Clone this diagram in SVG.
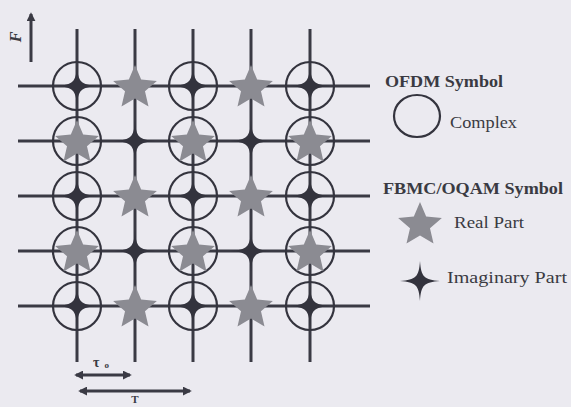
<svg xmlns="http://www.w3.org/2000/svg" width="571" height="407" viewBox="0 0 571 407">
<style>
.ln{stroke:#3a3a44;stroke-width:3;fill:none}
.circ{stroke:#34343e;stroke-width:2.2;fill:none}
.star{fill:#8b8b92}
.cross{fill:#33333d}
.lbl{font-family:"Liberation Serif","DejaVu Serif",serif;fill:#3a3a42}
.b{font-weight:bold}
.arw{stroke:#3a3a44;stroke-width:3;fill:none}
</style>
<defs>
<polygon id="star" points="0,-23 6.17,-8.49 21.87,-7.11 9.98,3.24 13.52,18.61 0,10.5 -13.52,18.61 -9.98,3.24 -21.87,-7.11 -6.17,-8.49"/>
<path id="cross" d="M0,-20 C1.2,-4 4,-1.2 20,0 C4,1.2 1.2,4 0,20 C-1.2,4 -4,1.2 -20,0 C-4,-1.2 -1.2,-4 0,-20Z"/>
<marker id="ah" viewBox="0 0 10 10" refX="8" refY="5" markerWidth="3" markerHeight="3" orient="auto-start-reverse">
<path d="M0,0 L10,5 L0,10Z" fill="#3a3a44"/>
</marker>
</defs>
<rect width="571" height="407" fill="#ebeaf0"/>

<g id="grid-lines">
<line class="ln" x1="18" y1="86" x2="370" y2="86"/>
<line class="ln" x1="18" y1="141" x2="370" y2="141"/>
<line class="ln" x1="18" y1="196" x2="370" y2="196"/>
<line class="ln" x1="18" y1="251" x2="370" y2="251"/>
<line class="ln" x1="18" y1="306" x2="370" y2="306"/>
<line class="ln" x1="77" y1="29" x2="77" y2="362"/>
<line class="ln" x1="135" y1="29" x2="135" y2="362"/>
<line class="ln" x1="193" y1="29" x2="193" y2="362"/>
<line class="ln" x1="251" y1="29" x2="251" y2="362"/>
<line class="ln" x1="310" y1="29" x2="310" y2="362"/>
</g>

<g id="row1">
<g id="r1c1"><circle class="circ" cx="77" cy="86" r="24"/><use href="#cross" class="cross" x="77" y="86"/></g>
<g id="r1c2"><use href="#star" class="star" x="135" y="88"/></g>
<g id="r1c3"><circle class="circ" cx="193" cy="86" r="24"/><use href="#cross" class="cross" x="193" y="86"/></g>
<g id="r1c4"><use href="#star" class="star" x="251" y="88"/></g>
<g id="r1c5"><circle class="circ" cx="310" cy="86" r="24"/><use href="#cross" class="cross" x="310" y="86"/></g>
</g>
<g id="row2">
<g id="r2c1"><circle class="circ" cx="77" cy="141" r="24"/><use href="#star" class="star" x="77" y="143"/></g>
<g id="r2c2"><use href="#cross" class="cross" x="135" y="141"/></g>
<g id="r2c3"><circle class="circ" cx="193" cy="141" r="24"/><use href="#star" class="star" x="193" y="143"/></g>
<g id="r2c4"><use href="#cross" class="cross" x="251" y="141"/></g>
<g id="r2c5"><circle class="circ" cx="310" cy="141" r="24"/><use href="#star" class="star" x="310" y="143"/></g>
</g>
<g id="row3">
<g id="r3c1"><circle class="circ" cx="77" cy="196" r="24"/><use href="#cross" class="cross" x="77" y="196"/></g>
<g id="r3c2"><use href="#star" class="star" x="135" y="198"/></g>
<g id="r3c3"><circle class="circ" cx="193" cy="196" r="24"/><use href="#cross" class="cross" x="193" y="196"/></g>
<g id="r3c4"><use href="#star" class="star" x="251" y="198"/></g>
<g id="r3c5"><circle class="circ" cx="310" cy="196" r="24"/><use href="#cross" class="cross" x="310" y="196"/></g>
</g>
<g id="row4">
<g id="r4c1"><circle class="circ" cx="77" cy="251" r="24"/><use href="#star" class="star" x="77" y="253"/></g>
<g id="r4c2"><use href="#cross" class="cross" x="135" y="251"/></g>
<g id="r4c3"><circle class="circ" cx="193" cy="251" r="24"/><use href="#star" class="star" x="193" y="253"/></g>
<g id="r4c4"><use href="#cross" class="cross" x="251" y="251"/></g>
<g id="r4c5"><circle class="circ" cx="310" cy="251" r="24"/><use href="#star" class="star" x="310" y="253"/></g>
</g>
<g id="row5">
<g id="r5c1"><circle class="circ" cx="77" cy="306" r="24"/><use href="#cross" class="cross" x="77" y="306"/></g>
<g id="r5c2"><use href="#star" class="star" x="135" y="308"/></g>
<g id="r5c3"><circle class="circ" cx="193" cy="306" r="24"/><use href="#cross" class="cross" x="193" y="306"/></g>
<g id="r5c4"><use href="#star" class="star" x="251" y="308"/></g>
<g id="r5c5"><circle class="circ" cx="310" cy="306" r="24"/><use href="#cross" class="cross" x="310" y="306"/></g>
</g>

<g id="connectors">
<line class="arw" x1="31" y1="62" x2="31" y2="14" marker-end="url(#ah)"/>
<line class="arw" x1="76" y1="375" x2="130" y2="375" marker-start="url(#ah)" marker-end="url(#ah)"/>
<line class="arw" x1="80" y1="391" x2="190" y2="391" marker-start="url(#ah)" marker-end="url(#ah)"/>
</g>

<g id="axis-labels">
<text class="lbl b" font-style="italic" font-size="16" transform="translate(21,37) rotate(-90)" text-anchor="middle">F</text>
<text class="lbl b" font-size="14" x="93" y="367">τ<tspan font-size="9" dx="5" dy="1">o</tspan></text>
<text class="lbl b" font-size="11" x="135" y="403" text-anchor="middle">T</text>
</g>

<g id="legend-ofdm">
<text class="lbl b" font-size="17" x="385" y="87" textLength="118" lengthAdjust="spacingAndGlyphs">OFDM Symbol</text>
<ellipse class="circ" cx="417" cy="116" rx="23" ry="21"/>
<text class="lbl" font-size="17" x="450" y="128" textLength="67" lengthAdjust="spacingAndGlyphs">Complex</text>
</g>
<g id="legend-fbmc">
<text class="lbl b" font-size="17" x="383" y="194" textLength="180" lengthAdjust="spacingAndGlyphs">FBMC/OQAM Symbol</text>
<use href="#star" class="star" x="420" y="225"/>
<text class="lbl" font-size="17" x="454" y="228" textLength="70" lengthAdjust="spacingAndGlyphs">Real Part</text>
<use href="#cross" class="cross" x="420" y="281"/>
<text class="lbl" font-size="17" x="447" y="283" textLength="120" lengthAdjust="spacingAndGlyphs">Imaginary Part</text>
</g>
</svg>
